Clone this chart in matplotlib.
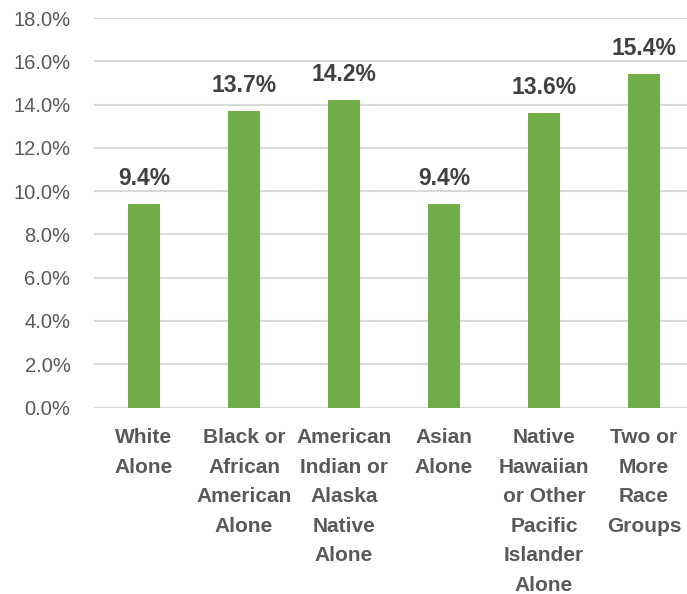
import numpy as np
import matplotlib.pyplot as plt

# Data
categories = ['White\nAlone', 'Black or\nAfrican\nAmerican\nAlone', 'American\nIndian or\nAlaska\nNative\nAlone',
              'Asian\nAlone', 'Native\nHawaiian\nor Other\nPacific\nIslander\nAlone', 'Two or\nMore\nRace\nGroups']
values = [9.4, 13.7, 14.2, 9.4, 13.6, 15.4]
y_ticks = [0, 2, 4, 6, 8, 10, 12, 14, 16, 18]

plt.rcParams['font.family'] = ['Liberation Sans', 'DejaVu Sans']

W, H = 687, 594
fig = plt.figure(figsize=(W / 100, H / 100), dpi=100)
ax = fig.add_axes([94 / W, 1 - 407.5 / H, 1 - 94 / W, (407.5 - 18) / H])

x = np.arange(len(categories))
ax.bar(x, values, width=0.32, color='#70AD47', zorder=3)

# value labels above the bars
for xi, v in zip(x, values):
    ax.annotate(f'{v:.1f}%', (xi, v), xytext=(0, 14), textcoords='offset points',
                ha='center', va='baseline', fontsize=16.5, fontweight='bold', color='#404040')

ax.set_ylim(0, 18)
ax.set_xlim(-0.5, 5.43)
ax.set_yticks(y_ticks)
ax.set_yticklabels([f'{t:.1f}%' for t in y_ticks], fontsize=14.5, color='#595959')
ax.set_xticks(x)
ax.set_xticklabels(categories, fontsize=15, fontweight='bold', color='#595959', va='top')
for lbl in ax.get_xticklabels():
    lbl.set_linespacing(1.7)

ax.grid(axis='y', color='#D9D9D9', linewidth=1.5, zorder=0)
ax.tick_params(axis='both', length=0)
ax.tick_params(axis='y', pad=17)
ax.tick_params(axis='x', pad=15)
for s in ax.spines.values():
    s.set_visible(False)

fig.savefig('out.png', dpi=100)
